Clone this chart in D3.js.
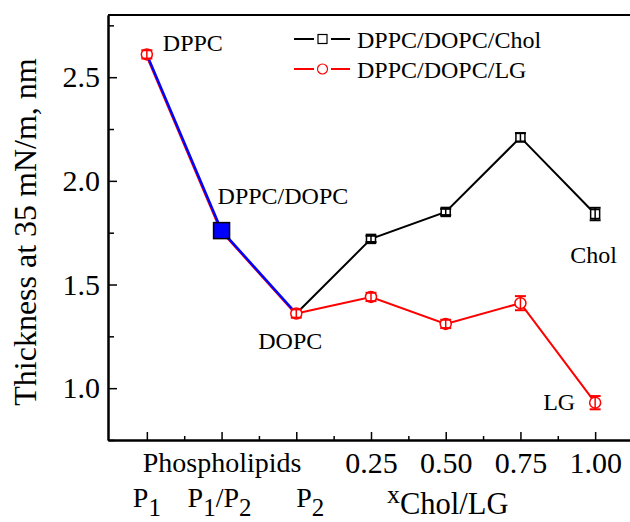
<!DOCTYPE html>
<html>
<head>
<meta charset="utf-8">
<script src="https://cdn.jsdelivr.net/npm/d3@7"></script>
<style>
  body { margin: 0; background: #fff; }
  svg { display: block; font-family: "Liberation Serif", "Times New Roman", serif; }
</style>
</head>
<body>
<svg id="chart" width="630" height="522"></svg>
<script>
// ---- data ----
const xTickLabels = ["", "Phospholipids", "", "0.25", "0.50", "0.75", "1.00"];
const phosIdx = [0, 1, 2];
const phosValues = [2.61, 1.76, 1.36];
const phosLabels = ["DPPC", "DPPC/DOPC", "DOPC"];
const cholIdx = [2, 3, 4, 5, 6];
const cholValues = [1.36, 1.72, 1.85, 2.21, 1.84];
const cholErr = [0.02, 0.015, 0.015, 0.02, 0.03];
const lgIdx = [0, 2, 3, 4, 5, 6];
const lgValues = [2.61, 1.36, 1.44, 1.31, 1.41, 0.93];
const lgErr = [0.02, 0.02, 0.02, 0.02, 0.034, 0.032];
const yTicks = [1.0, 1.5, 2.0, 2.5];
const yMinorTicks = [0.75, 1.25, 1.75, 2.25, 2.75];
const xMinorTicks = [0.5, 1.5, 2.5, 3.5, 4.5, 5.5];
const legendNames = ["DPPC/DOPC/Chol", "DPPC/DOPC/LG"];

const FONT = '"Liberation Serif", "Times New Roman", serif';
const svg = d3.select("#chart");
const x = d3.scaleLinear().domain([-0.52, 6.5]).range([108, 632.5]);
const y = d3.scaleLinear().domain([0.75, 2.8]).range([440, 15]);

// ---- axes ----
const gx = svg.append("g").attr("transform", "translate(0,440)")
  .call(d3.axisBottom(x).tickValues(d3.range(7)).tickFormat((d,i) => xTickLabels[i])
    .tickSizeInner(-8).tickSizeOuter(0).tickPadding(12));
gx.selectAll("text").attr("fill", "#000")
  .style("font-size", (d,i) => i === 1 ? "28px" : "30px");
const gxm = svg.append("g").attr("transform", "translate(0,440)")
  .call(d3.axisBottom(x).tickValues(xMinorTicks).tickFormat("").tickSizeInner(-4).tickSizeOuter(0));

const gy = svg.append("g").attr("transform", "translate(108,0)")
  .call(d3.axisLeft(y).tickValues(yTicks).tickFormat(d3.format(".1f"))
    .tickSizeInner(-9).tickSizeOuter(0).tickPadding(8));
gy.selectAll("text").attr("fill", "#000").style("font-size", "30px");
const gym = svg.append("g").attr("transform", "translate(108,0)")
  .call(d3.axisLeft(y).tickValues(yMinorTicks).tickFormat("").tickSizeInner(-6).tickSizeOuter(0));

[gx, gxm, gy, gym].forEach(g => {
  g.attr("font-family", FONT);
  g.selectAll("path.domain").attr("stroke", "#000").attr("stroke-width", 2);
  g.selectAll("line").attr("stroke", "#000").attr("stroke-width", 1.5);
});
// top / right frame
svg.append("path").attr("d", `M${x(-0.52)},${y(2.8)}H${x(6.5)}V${y(0.75)}`)
  .attr("fill", "none").attr("stroke", "#000").attr("stroke-width", 2);

// ---- lines ----
const line = d3.line().x(d => x(d[0])).y(d => y(d[1]));
const phosPts = phosIdx.map((d,i) => [d, phosValues[i]]);
const cholPts = cholIdx.map((d,i) => [d, cholValues[i]]);
const lgPts = lgIdx.map((d,i) => [d, lgValues[i]]);

svg.append("path").datum(phosPts).attr("d", line).attr("transform", "translate(-1,0)")
  .attr("fill", "none").attr("stroke", "#ff0000").attr("stroke-width", 2);
svg.append("path").datum(phosPts).attr("d", line)
  .attr("fill", "none").attr("stroke", "#0000ff").attr("stroke-width", 2.5);
svg.append("path").datum(cholPts).attr("d", line)
  .attr("fill", "none").attr("stroke", "#000").attr("stroke-width", 2);
svg.append("path").datum(lgPts.slice(1)).attr("d", line)
  .attr("fill", "none").attr("stroke", "#ff0000").attr("stroke-width", 2);

// ---- error bars & markers ----
function errBars(idx, vals, errs, color) {
  const g = svg.append("g").attr("stroke", color).attr("stroke-width", 1.5);
  idx.forEach((d,i) => {
    const cx = x(d), y1 = y(vals[i] + errs[i]), y2 = y(vals[i] - errs[i]);
    g.append("line").attr("x1", cx).attr("x2", cx).attr("y1", y1).attr("y2", y2);
    g.append("line").attr("x1", cx - 5.5).attr("x2", cx + 5.5).attr("y1", y1).attr("y2", y1).attr("stroke-width", 2);
    g.append("line").attr("x1", cx - 5.5).attr("x2", cx + 5.5).attr("y1", y2).attr("y2", y2).attr("stroke-width", 2);
  });
}
svg.append("g").selectAll("rect").data(cholPts.slice(1)).join("rect")
  .attr("x", d => x(d[0]) - 4.5).attr("y", d => y(d[1]) - 4.5)
  .attr("width", 9).attr("height", 9)
  .attr("fill", "#fff").attr("stroke", "#000").attr("stroke-width", 1.5);
errBars(cholIdx.slice(1), cholValues.slice(1), cholErr.slice(1), "#000");

svg.append("g").selectAll("circle").data(lgPts).join("circle")
  .attr("cx", d => x(d[0])).attr("cy", d => y(d[1])).attr("r", 5.5)
  .attr("fill", "#fff").attr("stroke", "#ff0000").attr("stroke-width", 1.5);
errBars(lgIdx, lgValues, lgErr, "#ff0000");

// DPPC/DOPC blue square
svg.append("rect").attr("x", x(phosIdx[1]) - 8).attr("y", y(phosValues[1]) - 8)
  .attr("width", 16).attr("height", 16)
  .attr("fill", "#0000ff").attr("stroke", "#000").attr("stroke-width", 1.5);

// ---- point labels ----
const labelFont = "24px";
svg.append("text").attr("x", x(phosIdx[0]) + 16).attr("y", y(phosValues[0]) - 3)
  .style("font-size", labelFont).text(phosLabels[0]);
svg.append("text").attr("x", x(phosIdx[1]) - 4).attr("y", y(phosValues[1]) - 27)
  .style("font-size", labelFont).text(phosLabels[1]);
svg.append("text").attr("x", x(phosIdx[2]) - 38).attr("y", y(phosValues[2]) + 35)
  .style("font-size", labelFont).text(phosLabels[2]);
svg.append("text").attr("x", x(6) - 25).attr("y", y(cholValues[4]) + 49)
  .style("font-size", labelFont).text("Chol");
svg.append("text").attr("x", x(6) - 52).attr("y", y(lgValues[5]) + 7)
  .style("font-size", labelFont).text("LG");

// ---- legend ----
const legY = [39, 69];
const lg = svg.append("g");
[0, 1].forEach(k => {
  const col = k === 0 ? "#000" : "#ff0000";
  lg.append("line").attr("x1", 294).attr("x2", 314).attr("y1", legY[k]).attr("y2", legY[k])
    .attr("stroke", col).attr("stroke-width", 2);
  lg.append("line").attr("x1", 331).attr("x2", 350).attr("y1", legY[k]).attr("y2", legY[k])
    .attr("stroke", col).attr("stroke-width", 2);
  if (k === 0) {
    lg.append("rect").attr("x", 318).attr("y", legY[k] - 4.5).attr("width", 9).attr("height", 9)
      .attr("fill", "#fff").attr("stroke", "#000").attr("stroke-width", 1.2);
  } else {
    lg.append("circle").attr("cx", 322.5).attr("cy", legY[k]).attr("r", 5)
      .attr("fill", "#fff").attr("stroke", "#ff0000").attr("stroke-width", 1.2);
  }
  lg.append("text").attr("x", 357).attr("y", legY[k] + 8.5).style("font-size", "24px").text(legendNames[k]);
});

// ---- axis titles ----
svg.append("text").attr("transform", "translate(36,232) rotate(-90)")
  .attr("text-anchor", "middle").style("font-size", "32px").text("Thickness at 35 mN/m, nm");

function pLabel(cx, parts) {
  const t = svg.append("text").attr("x", cx).attr("y", 507).attr("text-anchor", "middle").style("font-size", "28px");
  parts.forEach(p => {
    if (p.sub) t.append("tspan").attr("dy", 9).style("font-size", "25px").text(p.t);
    else t.append("tspan").attr("dy", p.back ? -9 : 0).text(p.t);
  });
}
pLabel(x(0), [{t: "P"}, {t: "1", sub: true}]);
pLabel(x(1) - 2, [{t: "P"}, {t: "1", sub: true}, {t: "/P", back: true}, {t: "2", sub: true}]);
pLabel(x(2) + 14, [{t: "P"}, {t: "2", sub: true}]);

const xt = svg.append("text").attr("x", 387).attr("y", 503).style("font-size", "26px");
xt.append("tspan").text("x");
xt.append("tspan").attr("dy", 11).style("font-size", "30.5px").text("Chol/LG");
</script>
</body>
</html>
